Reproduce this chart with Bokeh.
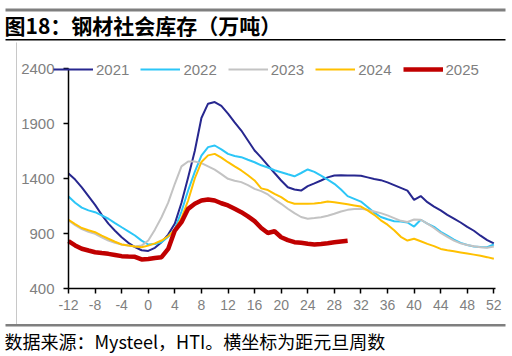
from bokeh.plotting import figure
from bokeh.models import (Legend, LegendItem, Label, BoxAnnotation, FixedTicker,
                          CustomJSTickFormatter, LinearAxis)
from bokeh.embed import file_html
from bokeh.resources import INLINE

weeks_full = list(range(-12, 53))
weeks_2025 = list(range(-12, 31))

y2021 = [1445, 1390, 1320, 1240, 1160, 1070, 990, 925, 866, 815, 776, 748, 742, 770, 821, 890, 990,
         1180, 1410, 1650, 1950, 2080, 2095, 2060, 1990, 1910, 1836, 1745, 1655, 1590, 1520, 1450,
         1382, 1320, 1300, 1290, 1330, 1355, 1382, 1410, 1427, 1430, 1428, 1428, 1425, 1410, 1395,
         1385, 1365, 1340, 1315, 1290, 1205, 1240, 1185, 1145, 1110, 1070, 1035, 1000, 960, 925,
         880, 840, 810]
y2022 = [1236, 1180, 1135, 1110, 1094, 1065, 1034, 995, 957, 920, 882, 835, 800, 805, 821, 870, 943,
         1100, 1291, 1460, 1609, 1685, 1700, 1665, 1624, 1605, 1594, 1570, 1548, 1520, 1500, 1475,
         1457, 1438, 1420, 1450, 1482, 1460, 1427, 1390, 1352, 1300, 1240, 1215, 1190, 1140, 1090,
         1050, 1030, 1012, 1010, 1000, 963, 1025, 990, 960, 915, 880, 845, 815, 795, 782, 778, 776, 800]
y2023 = [1018, 975, 940, 915, 897, 865, 836, 815, 800, 790, 782, 790, 836, 935, 1048, 1180, 1352,
         1510, 1554, 1554, 1540, 1510, 1480, 1440, 1397, 1380, 1367, 1340, 1306, 1285, 1255, 1210,
         1170, 1125, 1085, 1050, 1034, 1040, 1048, 1062, 1079, 1100, 1115, 1122, 1124, 1115, 1100,
         1085, 1065, 1040, 1015, 1005, 1027, 1025, 990, 950, 905, 870, 835, 810, 795, 785, 775, 770, 782]
y2024 = [1025, 985, 950, 930, 912, 880, 852, 825, 800, 790, 782, 775, 790, 810, 836, 875, 934,
         1040, 1200, 1400, 1550, 1610, 1624, 1590, 1548, 1510, 1473, 1430, 1382, 1310, 1295, 1260,
         1230, 1190, 1170, 1170, 1170, 1172, 1180, 1190, 1185, 1175, 1165, 1155, 1145, 1110, 1070,
         1020, 980, 930, 870, 836, 852, 830, 806, 785, 760, 748, 738, 728, 718, 708, 698, 685, 670]
y2025 = [830, 792, 761, 745, 730, 722, 715, 705, 694, 690, 688, 664, 668, 678, 685, 760, 927,
         1003, 1124, 1170, 1200, 1209, 1200, 1175, 1155, 1125, 1094, 1055, 1012, 950, 905, 920,
         866, 840, 821, 815, 806, 800, 805, 812, 820, 828, 835]

series = [
    ("2021", weeks_full, y2021, "#27278F", 2),
    ("2022", weeks_full, y2022, "#2CC6F7", 2),
    ("2023", weeks_full, y2023, "#C3C3C3", 2),
    ("2024", weeks_full, y2024, "#FFC000", 2),
    ("2025", weeks_2025, y2025, "#C00000", 4.5),
]

x_ticks = list(range(-12, 53, 4))
y_ticks = [400, 900, 1400, 1900, 2400]
X_MIN, X_MAX = -12, 52.25
Y_MIN, Y_MAX = 400, 2400

# page layout (pixels): plot area box
W, H = 512, 356
PL, PR, PT, PB = 68, 495, 68, 288
kx = (X_MAX - X_MIN) / (PR - PL)
ky = (Y_MAX - Y_MIN) / (PB - PT)
x_range = (X_MIN - PL * kx, X_MAX + (W - PR) * kx)
y_range = (Y_MIN - (H - PB) * ky, Y_MAX + PT * ky)

p = figure(width=W, height=H, output_backend="svg", toolbar_location=None, title=None,
           x_range=x_range, y_range=y_range, x_axis_location=None, y_axis_location=None,
           min_border=0)
p.outline_line_color = None
p.grid.visible = False
p.background_fill_color = "white"
p.border_fill_color = "white"

xaxis = LinearAxis(fixed_location=Y_MIN, bounds=(X_MIN, X_MAX),
                   ticker=FixedTicker(ticks=x_ticks),
                   formatter=CustomJSTickFormatter(code="return tick.toString()"))
yaxis = LinearAxis(fixed_location=X_MIN, bounds=(Y_MIN, Y_MAX),
                   ticker=FixedTicker(ticks=y_ticks))
for ax in (xaxis, yaxis):
    ax.axis_line_color = "black"
    ax.axis_line_width = 1.5
    ax.major_tick_line_color = "black"
    ax.major_tick_line_width = 1.5
    ax.major_tick_out = 5
    ax.major_tick_in = 0
    ax.minor_tick_line_color = None
    ax.major_label_text_color = "#7F7F7F"
    ax.major_label_text_font = "Liberation Sans"
xaxis.major_label_text_font_size = "14px"
yaxis.major_label_text_font_size = "15px"
xaxis.major_label_standoff = 6
yaxis.major_label_standoff = 9
p.add_layout(xaxis, "below")
p.add_layout(yaxis, "left")

items = []
for name, xs, ys, color, lw in series:
    r = p.line(xs, ys, line_color=color, line_width=lw)
    items.append(LegendItem(label=name, renderers=[r]))

legend = Legend(items=items, orientation="horizontal", location=(53, H - 79),
                glyph_width=40, glyph_height=20, label_height=20, label_standoff=3, spacing=11,
                padding=0, margin=0, border_line_color=None, background_fill_alpha=0,
                label_text_font="Liberation Sans", label_text_font_size="15px",
                label_text_color="#7F7F7F")
p.add_layout(legend, "center")


def box(x0, x1, y0, y1, color):
    # page coords (from top-left) -> screen units (from bottom-left)
    p.add_layout(BoxAnnotation(left=x0, right=x1, top=H - y0, bottom=H - y1,
                               left_units="screen", right_units="screen",
                               top_units="screen", bottom_units="screen",
                               fill_color=color, fill_alpha=1, line_color=None))


box(5, 505, 8, 11, "#7F7F7F")
box(5, 505, 38.5, 40, "#000000")
box(5, 505, 323.5, 326, "#7F7F7F")
box(15.5, 16.5, 42, 323.5, "#C8C8C8")

p.add_layout(Label(x=4, y=H - 24, x_units="screen", y_units="screen",
                   text="图18：钢材社会库存（万吨）", text_font="Noto Sans CJK SC",
                   text_font_style="bold", text_font_size="21px", text_color="black",
                   text_baseline="middle"))
p.add_layout(Label(x=4, y=H - 340.5, x_units="screen", y_units="screen",
                   text="数据来源：Mysteel，HTI。横坐标为距元旦周数", text_font="Noto Sans CJK SC",
                   text_font_size="18px", text_color="black", text_baseline="middle"))

open("out.html", "w").write(file_html(p, INLINE))
